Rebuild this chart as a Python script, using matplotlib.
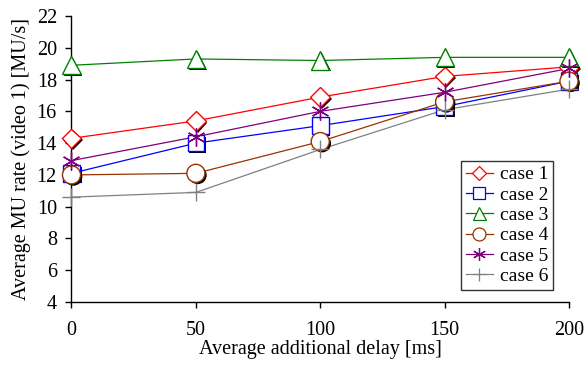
import matplotlib
matplotlib.use('Agg')
import matplotlib.pyplot as plt
import matplotlib.patheffects as pe
from matplotlib.lines import Line2D

# Data
delays = [0, 50, 100, 150, 200]
case1 = [14.3, 15.4, 16.9, 18.2, 18.8]
case2 = [12.1, 14.0, 15.1, 16.3, 17.9]
case3 = [18.9, 19.3, 19.2, 19.4, 19.4]
case4 = [12.0, 12.1, 14.1, 16.6, 17.9]
case5 = [12.9, 14.4, 16.0, 17.2, 18.7]
case6 = [10.6, 10.9, 13.6, 16.1, 17.4]
labels = ['case 1', 'case 2', 'case 3', 'case 4', 'case 5', 'case 6']
y_ticks = [4, 6, 8, 10, 12, 14, 16, 18, 20, 22]
x_ticks = [0, 50, 100, 150, 200]

series = [case1, case2, case3, case4, case5, case6]
colors = ['#ff0000', '#0000ff', '#008000', '#993300', '#800080', '#808080']
markers = ['D', 's', '^', 'o', (6, 2, 0), '+']
sizes = [10, 12, 13, 13, 13, 13]
shadow = [True, True, True, True, False, False]

plt.rcParams['font.family'] = ['Liberation Serif', 'DejaVu Serif']
plt.rcParams['font.size'] = 14.5

fig = plt.figure(figsize=(5.87, 3.73), dpi=100)
ax = fig.add_axes([0.1218, 0.1903, 0.8475, 0.7667])

# lines first
for vals, c in zip(series, colors):
    ax.plot(delays, vals, color=c, linewidth=0.9, clip_on=False, zorder=2)

# markers on top, with black drop shadow like the original
for vals, c, m, s, sh in zip(series, colors, markers, sizes, shadow):
    effects = None
    if sh:
        effects = [pe.SimplePatchShadow(offset=(1.3, -1.3), shadow_rgbFace='k', alpha=1.0), pe.Normal()]
    ax.plot(delays, vals, linestyle='none', marker=m, markersize=s,
            markerfacecolor='white' if sh else c, markeredgecolor=c,
            markeredgewidth=1.0, clip_on=False, zorder=3, path_effects=effects)

ax.set_xlim(0, 200)
ax.set_ylim(4, 22)
ax.set_xticks(x_ticks)
ax.set_yticks(y_ticks)
ax.spines['top'].set_visible(False)
ax.spines['right'].set_visible(False)
for sp in ['left', 'bottom']:
    ax.spines[sp].set_linewidth(1.0)
ax.tick_params(direction='out', length=4.5, width=1.0, labelsize=14.5)
ax.tick_params(axis='x', pad=9)
ax.tick_params(axis='y', pad=6)

ax.set_xlabel('Average additional delay [ms]', fontsize=14.5, labelpad=0)
ax.set_ylabel('Average MU rate (video 1) [MU/s]', fontsize=14.5, labelpad=4)

handles = []
for c, m, s, sh in zip(colors, markers, sizes, shadow):
    handles.append(Line2D([], [], color=c, linewidth=0.9, marker=m, markersize=s * 0.72,
                          markerfacecolor='white' if sh else c, markeredgecolor=c,
                          markeredgewidth=0.9))
leg = ax.legend(handles, labels, loc='lower right', bbox_to_anchor=(0.968, 0.042),
                frameon=True, fancybox=False, fontsize=14, handlelength=1.4,
                handletextpad=0.35, labelspacing=0.14, borderpad=0.25, borderaxespad=0.0)
leg.get_frame().set_edgecolor('black')
leg.get_frame().set_linewidth(1.0)

fig.savefig('out.png', dpi=100)
